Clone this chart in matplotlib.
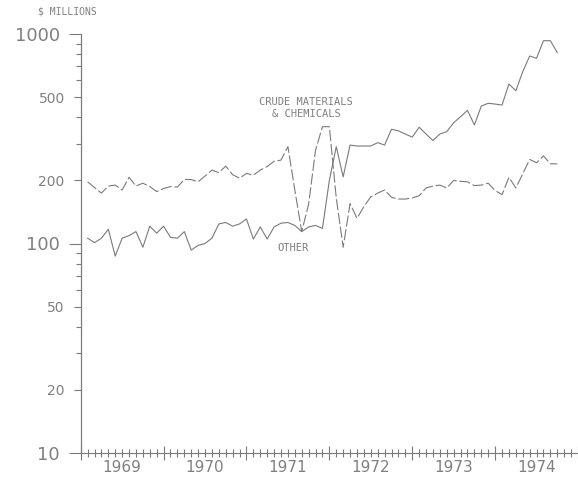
import numpy as np
import pandas as pd
import matplotlib
matplotlib.use("Agg")
import matplotlib.pyplot as plt
from matplotlib.ticker import MultipleLocator, NullLocator, FixedLocator

# monthly values, $ millions, Jan 1969 .. Sep 1974
months = pd.date_range("1969-01-01", periods=69, freq="MS")

other = [106, 101, 106, 117, 87, 106, 109, 114, 96, 121, 112, 121,
         107, 106, 114, 93, 98, 100, 106, 124, 126, 121, 124, 131,
         105, 120, 105, 120, 125, 126, 122, 114, 120, 122, 118, 200,
         290, 208, 295, 292, 292, 292, 303, 295, 351, 345, 333, 322,
         359, 333, 310, 333, 342, 377, 403, 432, 368, 453, 467, 463,
         458, 577, 536, 661, 785, 766, 929, 929, 815]

crude = [197, 185, 174, 188, 190, 180, 207, 188, 194, 187, 177, 183,
         187, 186, 202, 202, 197, 210, 224, 218, 234, 213, 205, 216,
         212, 224, 233, 247, 250, 290, 180, 114, 154, 279, 361, 361,
         165, 96, 155, 132, 150, 167, 174, 180, 166, 163, 163, 165,
         169, 184, 188, 190, 184, 200, 198, 197, 189, 190, 194, 179,
         171, 207, 184, 215, 252, 243, 262, 240, 240]

big_ticks = [10, 100, 1000]
small_ticks = [20, 50, 200, 500]
minor_ticks = [30, 40, 60, 70, 80, 90, 300, 400, 600, 700, 800, 900]
years = [1969, 1970, 1971, 1972, 1973, 1974]

grey = "#7a7a7a"
txt = "#808080"

# place each month's value at the end of the month
x = months.year + (months.month) / 12.0

fig = plt.figure(figsize=(5.78, 4.78), dpi=100)
ax = fig.add_axes([80.7 / 578, 25 / 478, (578 - 80.7) / 578, 419 / 478])

ax.plot(x, other, color=grey, lw=0.8)
ax.plot(x, crude, color=grey, lw=0.8, dashes=(10, 2.5))

ax.set_yscale("log")
ax.set_ylim(10, 1000)
ax.set_xlim(1969, 1975)

for s in ["top", "right"]:
    ax.spines[s].set_visible(False)
for s in ["left", "bottom"]:
    ax.spines[s].set_color(grey)
    ax.spines[s].set_linewidth(0.8)

# y axis: long ticks for decades, shorter for 2 and 5, short minor
ax.set_yticks(big_ticks, [str(v) for v in big_ticks])
ax.yaxis.set_minor_locator(FixedLocator(minor_ticks))
ax.yaxis.set_minor_formatter(plt.NullFormatter())
ax.tick_params(axis="y", which="major", direction="out", length=8.6,
               width=0.8, color=grey, labelcolor=txt, labelsize=13, pad=6.5)
ax.tick_params(axis="y", which="minor", direction="out", length=3.4,
               width=0.8, color=grey)

sec = ax.secondary_yaxis("left")
sec.set_yticks(small_ticks, [str(v) for v in small_ticks])
sec.yaxis.set_minor_locator(NullLocator())
sec.tick_params(axis="y", which="major", direction="out", length=5,
                width=0.8, color=grey, labelcolor=txt, labelsize=10, pad=6.5)
sec.spines["left"].set_color(grey)
sec.spines["left"].set_linewidth(0.8)

# x axis: year ticks and month ticks crossing the axis
ax.xaxis.set_major_locator(MultipleLocator(1))
ax.xaxis.set_minor_locator(MultipleLocator(1 / 12))
ax.xaxis.set_major_formatter(plt.NullFormatter())
ax.tick_params(axis="x", which="major", direction="inout", length=10,
               width=0.8, color=grey)
ax.tick_params(axis="x", which="minor", direction="inout", length=6,
               width=0.8, color=grey)

secx = ax.secondary_xaxis("bottom")
secx.set_xticks([y + 0.5 for y in years], [str(y) for y in years])
secx.xaxis.set_minor_locator(NullLocator())
secx.tick_params(axis="x", length=0, labelcolor=txt, labelsize=11, pad=5)
secx.spines["bottom"].set_visible(False)

mono = "DejaVu Sans Mono"
ax.text(1971.72, 443, "CRUDE MATERIALS\n& CHEMICALS", ha="center", va="center",
        fontsize=7.5, family=mono, color=txt, linespacing=1.2)
ax.text(1971.56, 95, "OTHER", ha="center", va="center",
        fontsize=7.5, family=mono, color=txt)
fig.text(67 / 578, 1 - 12 / 478, "$ MILLIONS", ha="center", va="center",
         fontsize=7, family=mono, color=txt)

fig.savefig("out.png", dpi=100)
